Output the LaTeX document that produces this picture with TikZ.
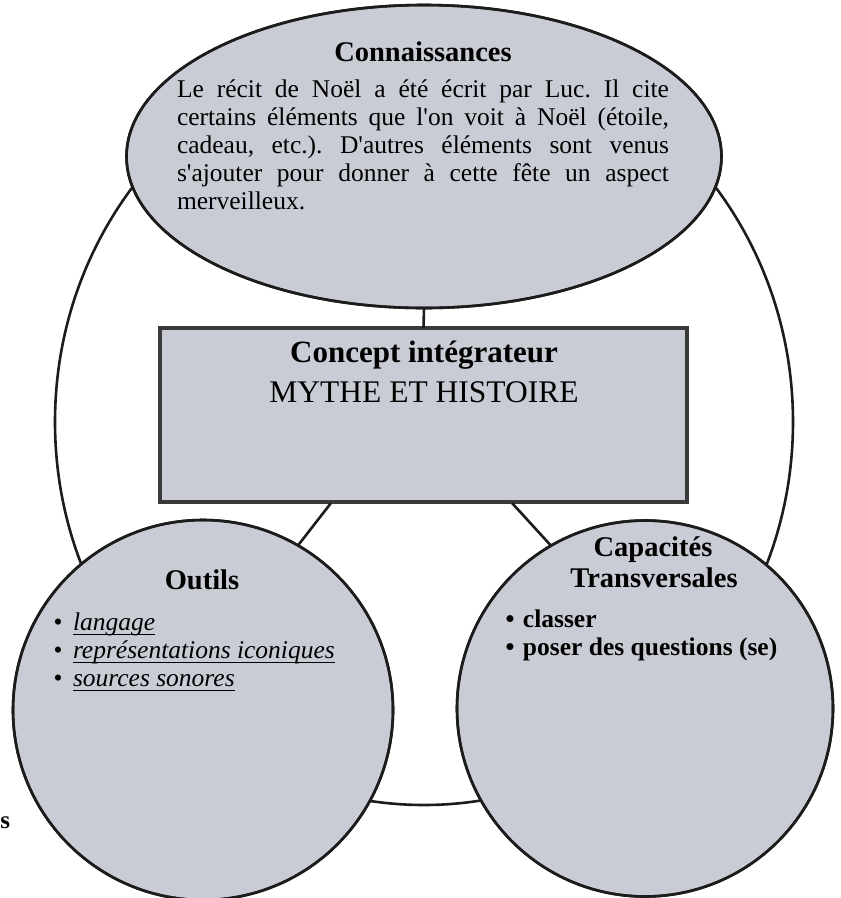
\documentclass[tikz,border=0pt]{standalone}
\usepackage{fontspec}
\setmainfont{Liberation Serif}
\newfontfamily\plainserif{Liberation Serif}
\usetikzlibrary{shapes.geometric}
\definecolor{shapefill}{RGB}{201,204,212}
\definecolor{edgecol}{RGB}{28,28,28}
\definecolor{rectedge}{RGB}{58,58,58}
\newcommand{\ulineX}[1]{\setbox0\hbox{#1}\rlap{\rule[-5pt]{\wd0}{1.4pt}}\box0}
\tikzset{
  shapebox/.style={draw=edgecol, line width=2.6pt, fill=shapefill, inner sep=0pt, outer sep=0pt},
  link/.style={draw=edgecol, line width=2.6pt},
  txt/.style={inner sep=0pt, outer sep=0pt, anchor=base, text=black},
  head/.style={txt, font=\plainserif\fontsize{28.5}{32}\selectfont\bfseries},
}
\frenchspacing
\begin{document}
\begin{tikzpicture}[x=1pt,y=-1pt]
\path[fill=white, use as bounding box] (0,0) rectangle (841,898);
% outer ring
\node[draw=edgecol, line width=2.6pt, ellipse, minimum width=738pt, minimum height=766pt, inner sep=0pt, outer sep=0pt] (outer) at (424,422) {};
% connector end points
\coordinate (cl) at (331,503);
\coordinate (cr) at (512,503);
\node[shapebox, ellipse, minimum width=595pt, minimum height=303pt] (E) at (424,156.5) {};
\node[draw=rectedge, line width=4pt, fill=shapefill, rectangle, minimum width=527pt, minimum height=174pt, inner sep=0pt, outer sep=0pt] (C) at (423.5,415) {};
\node[shapebox, circle, minimum size=380pt] (L) at (203,710) {};
\node[shapebox, circle, minimum size=376pt] (R) at (645,708.5) {};
\draw[link] (E.south) -- (C.north);
\draw[link] (cl) -- (L.60);
\draw[link] (cr) -- (R.120);
% redraw borders over connector ends
\node[shapebox, ellipse, minimum width=595pt, minimum height=303pt, fill=none] (E2) at (424,156.5) {};
\node[shapebox, circle, minimum size=380pt, fill=none] (L2) at (203,710) {};
\node[shapebox, circle, minimum size=376pt, fill=none] (R2) at (645,708.5) {};
% texts
\node[head] (t1) at (423,61) {Connaissances};
\node[txt, anchor=base west] (t2) at (177,97) {\parbox[t]{492pt}{\plainserif\frenchspacing\fontsize{25.5}{28}\selectfont
\makebox[492pt][s]{Le récit de Noël a été écrit par Luc. Il cite}\\
\makebox[492pt][s]{certains éléments que l'on voit à Noël (étoile,}\\
\makebox[492pt][s]{cadeau, etc.). D'autres éléments sont venus}\\
\makebox[492pt][s]{s'ajouter pour donner à cette fête un aspect}\\
merveilleux.}};
\node[txt, font=\plainserif\fontsize{31}{34}\selectfont\bfseries] (t3) at (424,362) {Concept intégrateur};
\node[txt, font=\plainserif\fontsize{31.5}{34}\selectfont] (t4) at (424,402) {MYTHE ET HISTOIRE};
\node[head] (t5) at (202,589) {Outils};
\node[txt, anchor=base west] (t6) at (53.5,630) {\parbox[t]{330pt}{\plainserif\fontsize{25.5}{28}\selectfont
\makebox[19.5pt][l]{\textbullet}\ulineX{\textit{langage}}\\
\makebox[19.5pt][l]{\textbullet}\ulineX{\textit{représentations iconiques}}\\
\makebox[19.5pt][l]{\textbullet}\ulineX{\textit{sources sonores}}}};
\node[head] (t7) at (653,556) {Capacités};
\node[head] (t8) at (654,587) {Transversales};
\node[txt, anchor=base west] (t9) at (505.5,627) {\parbox[t]{320pt}{\plainserif\fontsize{25.5}{28.5}\selectfont\bfseries
\makebox[17.5pt][l]{\textbullet}classer\\
\makebox[17.5pt][l]{\textbullet}poser des questions (se)}};
\node[txt, anchor=base west, font=\plainserif\fontsize{25}{28}\selectfont\bfseries] (t10) at (0.5,828) {s};
\end{tikzpicture}
\end{document}
